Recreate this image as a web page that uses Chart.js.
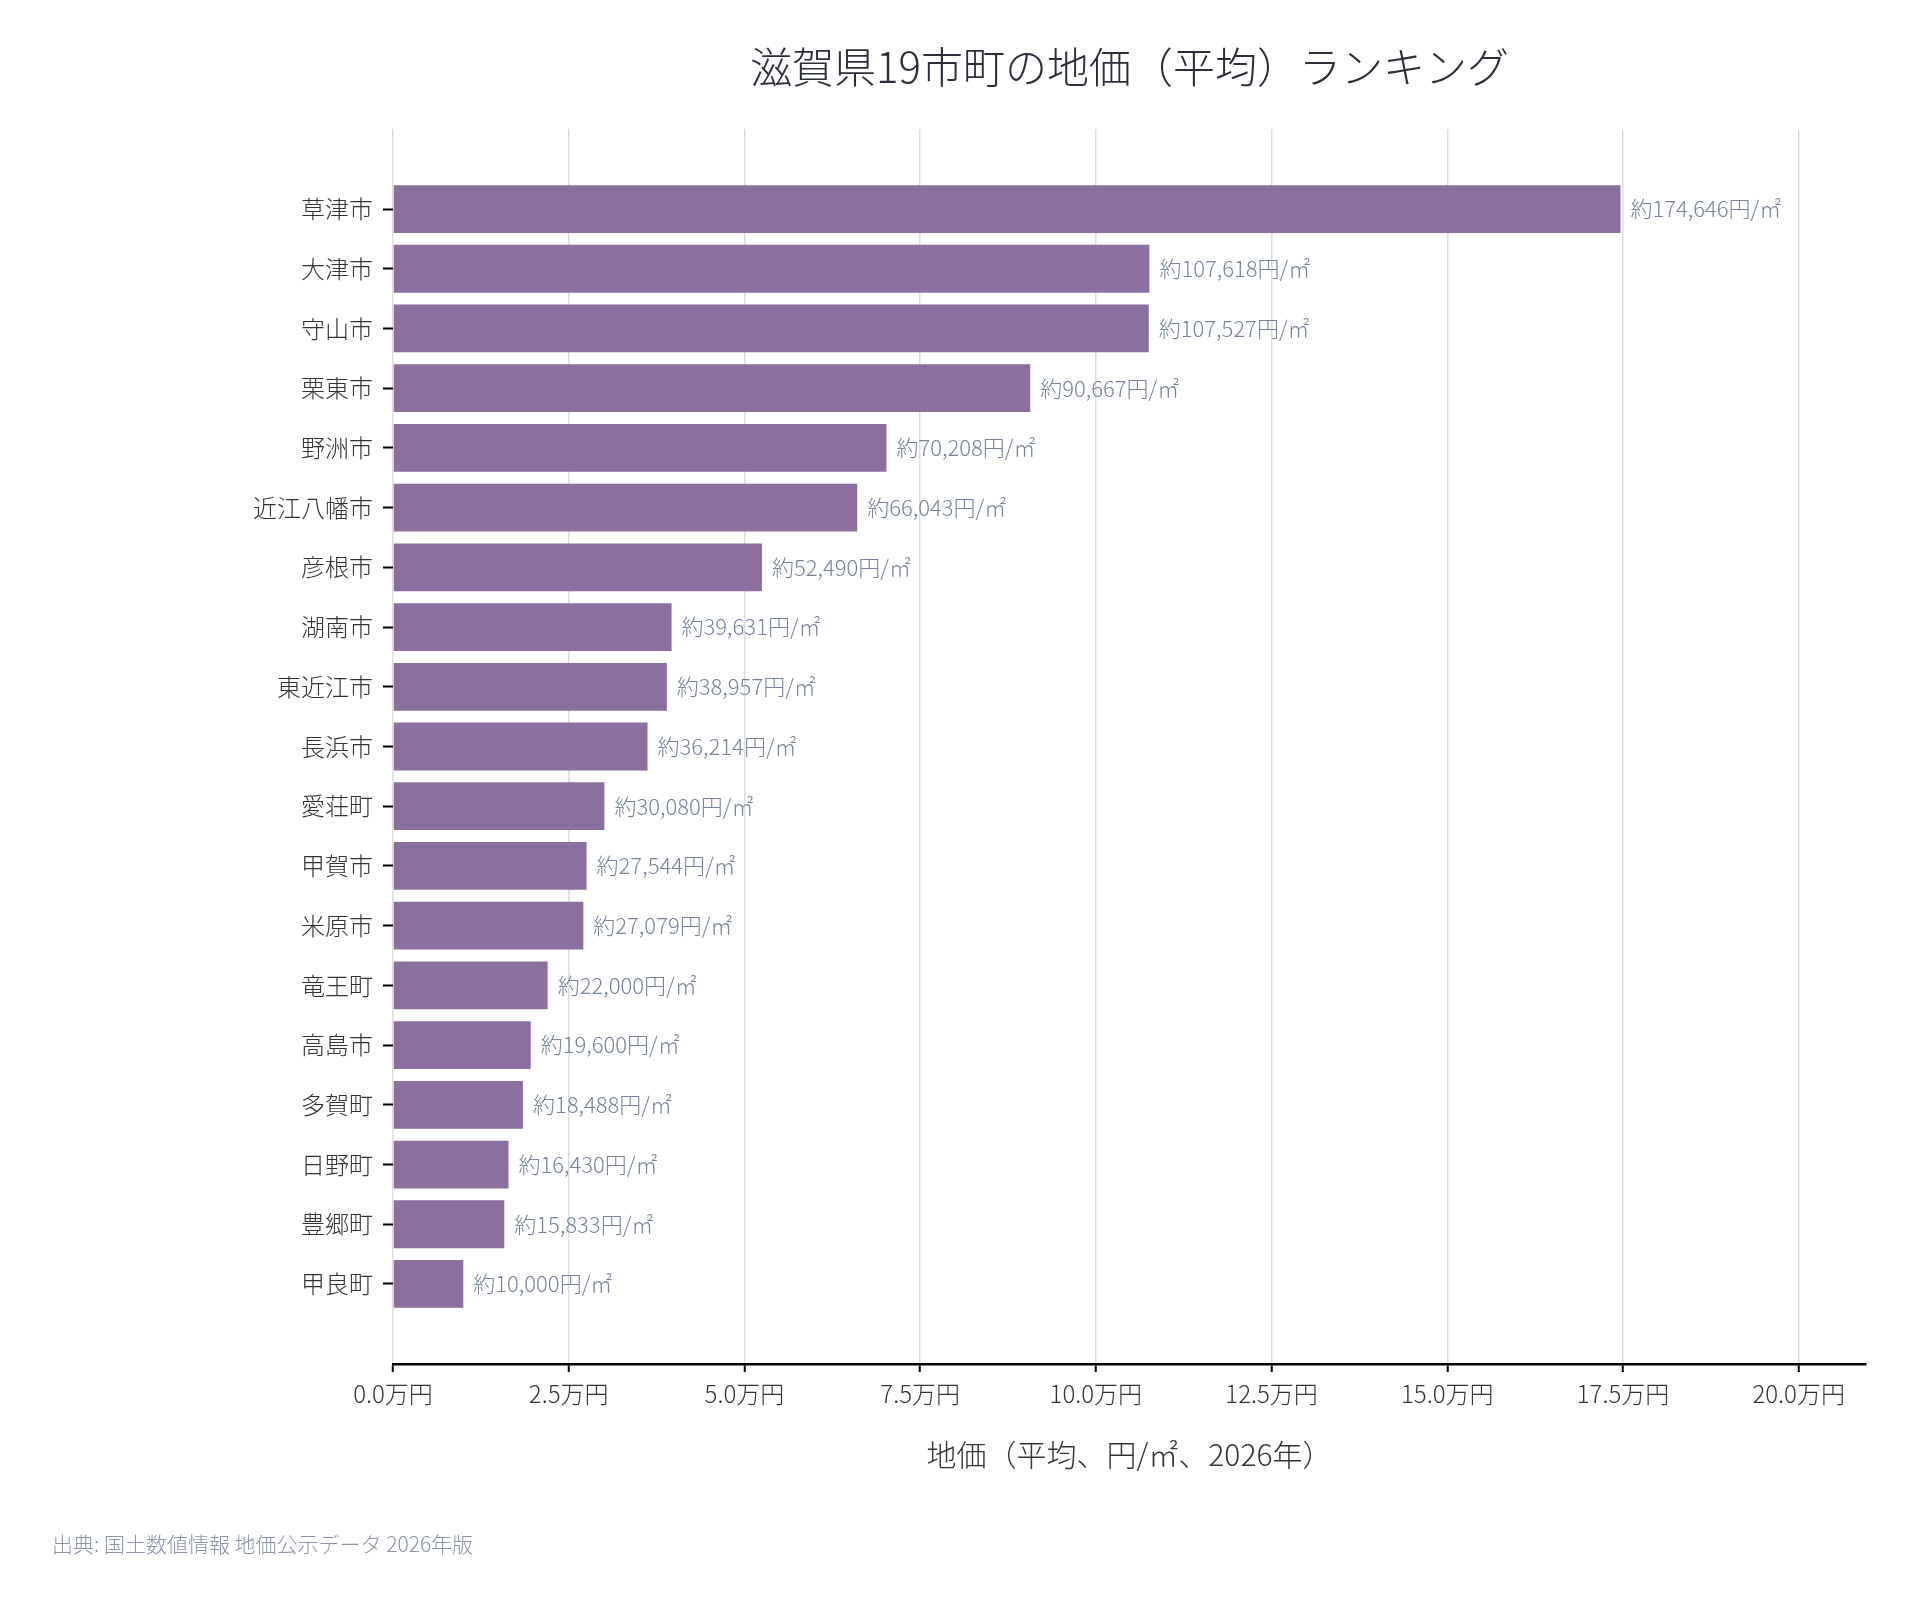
<!DOCTYPE html>
<html lang="ja">
<head>
<meta charset="utf-8">
<title>滋賀県19市町の地価（平均）ランキング</title>
<script src="https://cdn.jsdelivr.net/npm/chart.js@4.4.1/dist/chart.umd.min.js"></script>
<style>
  html, body { margin: 0; padding: 0; background: #ffffff; }
  canvas { display: block; }
</style>
</head>
<body>
<canvas id="chart" width="1915" height="1607" style="width:1915px;height:1607px"></canvas>
<script>
const categories = ["草津市","大津市","守山市","栗東市","野洲市","近江八幡市","彦根市","湖南市","東近江市","長浜市","愛荘町","甲賀市","米原市","竜王町","高島市","多賀町","日野町","豊郷町","甲良町"];
const landPrices = [174646,107618,107527,90667,70208,66043,52490,39631,38957,36214,30080,27544,27079,22000,19600,18488,16430,15833,10000];
const xTickValues = [0,25000,50000,75000,100000,125000,150000,175000,200000];

const FONT = '"Noto Sans CJK JP", "Noto Sans", sans-serif';
const W = 300;

const valueLabels = {
  id: 'valueLabels',
  afterDatasetsDraw(chart) {
    const ctx = chart.ctx;
    const meta = chart.getDatasetMeta(0);
    ctx.save();
    ctx.font = W + ' 22px ' + FONT;
    ctx.fillStyle = '#76839a';
    ctx.textAlign = 'left';
    ctx.textBaseline = 'middle';
    meta.data.forEach((bar, i) => {
      const txt = '約' + landPrices[i].toLocaleString('en-US') + '円/㎡';
      ctx.fillText(txt, bar.x + 10, bar.y);
    });
    ctx.restore();
  }
};

new Chart(document.getElementById('chart'), {
  type: 'bar',
  data: {
    datasets: [{
      data: landPrices.map((v, i) => ({ x: v, y: i })),
      backgroundColor: '#8b6f9e',
      borderWidth: 0,
      categoryPercentage: 1.0,
      barPercentage: 0.8
    }]
  },
  options: {
    indexAxis: 'y',
    responsive: false,
    devicePixelRatio: 1,
    animation: false,
    layout: { padding: { left: 52, right: 49, top: 0, bottom: 0 } },
    plugins: {
      legend: { display: false },
      tooltip: { enabled: false },
      title: {
        display: true,
        text: '滋賀県19市町の地価（平均）ランキング',
        fullSize: false,
        color: '#2b2f3a',
        font: { family: FONT, size: 42, weight: W },
        padding: { top: 41.8, bottom: 36.8 }
      },
      subtitle: {
        display: true,
        position: 'bottom',
        align: 'start',
        text: '出典: 国土数値情報 地価公示データ 2026年版',
        color: '#8a94a6',
        font: { family: FONT, size: 21, weight: W },
        padding: { top: 58.8, bottom: 50 }
      }
    },
    scales: {
      x: {
        type: 'linear',
        position: 'bottom',
        min: 0,
        max: 209575,
        afterBuildTicks: (scale) => { scale.ticks = xTickValues.map(v => ({ value: v })); },
        ticks: {
          color: '#333333',
          font: { family: FONT, size: 24, weight: W },
          padding: 7,
          maxRotation: 0,
          autoSkip: false,
          callback: (v) => (v / 10000).toFixed(1) + '万円'
        },
        grid: {
          display: true,
          color: '#dddddd',
          lineWidth: 1.5,
          drawTicks: true,
          tickLength: 8,
          tickColor: '#000000',
          tickWidth: 2
        },
        border: { display: true, color: '#000000', width: 2.5 },
        title: {
          display: true,
          text: '地価（平均、円/㎡、2026年）',
          color: '#333333',
          font: { family: FONT, size: 30, weight: W },
          padding: { top: 22.2, bottom: 0 }
        }
      },
      y: {
        type: 'linear',
        position: 'left',
        reverse: true,
        offset: false,
        min: -1.34,
        max: 19.34,
        afterBuildTicks: (scale) => { scale.ticks = categories.map((c, i) => ({ value: i })); },
        afterFit: (scale) => { scale.width = 341; },
        ticks: {
          color: '#333333',
          font: { family: FONT, size: 24, weight: W },
          padding: 10,
          autoSkip: false,
          callback: (v) => categories[v]
        },
        grid: {
          display: true,
          offset: false,
          drawOnChartArea: false,
          drawTicks: true,
          tickLength: 10,
          tickColor: '#000000',
          tickWidth: 2
        },
        border: { display: false }
      }
    }
  },
  plugins: [valueLabels]
});
</script>
</body>
</html>
